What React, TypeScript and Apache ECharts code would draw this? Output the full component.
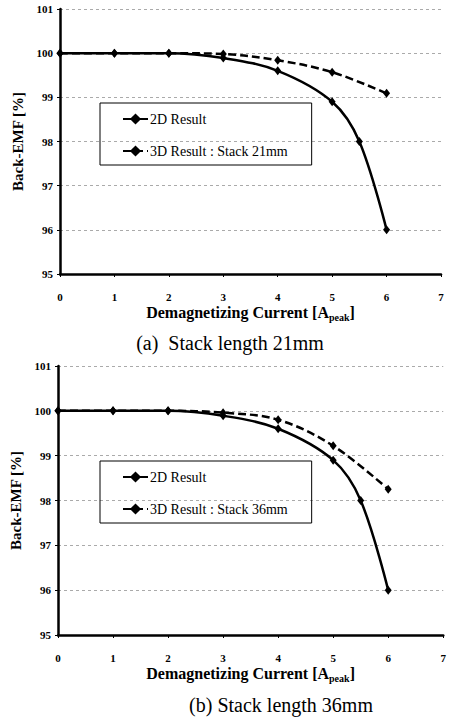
import React, { useEffect, useRef } from "react";
import * as echarts from "echarts";

const current2D = [0, 1, 2, 3, 4, 5, 5.5, 6];
const emf2D = [100, 100, 100, 99.89, 99.6, 98.9, 98.0, 96.0];
const current3D = [0, 1, 2, 3, 4, 5, 6];
const emf3D21 = [100, 100, 100, 99.98, 99.84, 99.57, 99.09];
const emf3D36 = [100, 100, 100, 99.96, 99.8, 99.22, 98.25];
const xTicks = { min: 0, max: 7, interval: 1 };
const yTicks = { min: 95, max: 101, interval: 1 };
const name2D = "2D Result";
const name21 = "3D Result : Stack 21mm";
const name36 = "3D Result : Stack 36mm";
const caption1 = "(a)  Stack length 21mm";
const caption2 = "(b) Stack length 36mm";

const pairs = (xs: number[], ys: number[]) => xs.map((x, i) => [x, ys[i]]);

const SERIF = "Liberation Serif";

function xAxis(gridIndex: number) {
  return {
    type: "value",
    gridIndex,
    ...xTicks,
    name: "{b|Demagnetizing Current [A}{s|peak}{b|]}",
    nameLocation: "middle",
    nameGap: 29,
    nameTextStyle: {
      rich: {
        b: { fontFamily: SERIF, fontWeight: "bold", fontSize: 16, color: "#000" },
        s: { fontFamily: SERIF, fontWeight: "bold", fontSize: 10, color: "#000", padding: [9, 0, 0, 0] },
      },
    },
    axisLine: { onZero: false, lineStyle: { color: "#000", width: 2.5 } },
    axisTick: { show: true, length: 3, lineStyle: { color: "#000", width: 1 } },
    axisLabel: { margin: 17, fontFamily: SERIF, fontWeight: "bold", fontSize: 11, color: "#000" },
    splitLine: { show: false },
  };
}

function yAxis(gridIndex: number) {
  return {
    type: "value",
    gridIndex,
    ...yTicks,
    name: "Back-EMF [%]",
    nameLocation: "middle",
    nameGap: 30,
    nameTextStyle: { fontFamily: SERIF, fontWeight: "bold", fontSize: 15, color: "#000" },
    axisLine: { show: true, lineStyle: { color: "#000", width: 2.5 } },
    axisTick: { show: true, length: 3, lineStyle: { color: "#000", width: 1 } },
    axisLabel: { margin: 7, fontFamily: SERIF, fontWeight: "bold", fontSize: 11, color: "#000" },
    splitLine: { show: true, lineStyle: { color: "#aaa", type: [3, 3], width: 1 } },
  };
}

function lineSeries(name: string, xi: number, data: number[][], dashed: boolean) {
  return {
    type: "line",
    name,
    xAxisIndex: xi,
    yAxisIndex: xi,
    data,
    smooth: 0.35,
    symbol: "diamond",
    symbolSize: [7, 9],
    itemStyle: { color: "#000" },
    lineStyle: { color: "#000", width: 2.5, type: dashed ? [8, 4] : "solid" },
    z: dashed ? 2 : 3,
  };
}

function legend(top: number, names: string[]) {
  return {
    orient: "vertical",
    left: 100,
    top,
    data: names,
    borderColor: "#000",
    borderWidth: 1,
    padding: [9, 24, 7, 22],
    itemGap: 18,
    itemWidth: 25,
    itemHeight: 14,
    selectedMode: false,
    textStyle: { fontFamily: SERIF, fontSize: 14, color: "#000", padding: [0, 0, 0, -3] },
  };
}

export default function App() {
  const ref = useRef<HTMLDivElement>(null);
  useEffect(() => {
    if (!ref.current) return;
    const chart = echarts.init(ref.current, null, { renderer: "svg" });
    chart.setOption({
      animation: false,
      backgroundColor: "#fff",
      grid: [
        { left: 60, right: 8, top: 9, height: 265 },
        { left: 58, right: 5, top: 366, height: 269 },
      ],
      xAxis: [xAxis(0), xAxis(1)],
      yAxis: [yAxis(0), yAxis(1)],
      legend: [legend(103, [name2D, name21]), legend(461, [name2D, name36])],
      title: [
        {
          text: caption1,
          left: 225,
          top: 328,
          textAlign: "center",
          textStyle: { fontFamily: SERIF, fontWeight: "normal", fontSize: 20, color: "#000" },
        },
        {
          text: caption2,
          left: 276,
          top: 690,
          textAlign: "center",
          textStyle: { fontFamily: SERIF, fontWeight: "normal", fontSize: 20, color: "#000" },
        },
      ],
      series: [
        lineSeries(name21, 0, pairs(current3D, emf3D21), true),
        lineSeries(name2D, 0, pairs(current2D, emf2D), false),
        lineSeries(name36, 1, pairs(current3D, emf3D36), true),
        lineSeries(name2D, 1, pairs(current2D, emf2D), false),
      ],
    });
    return () => chart.dispose();
  }, []);
  return <div ref={ref} style={{ width: 449, height: 720, position: "absolute", left: 0, top: 0 }} />;
}
